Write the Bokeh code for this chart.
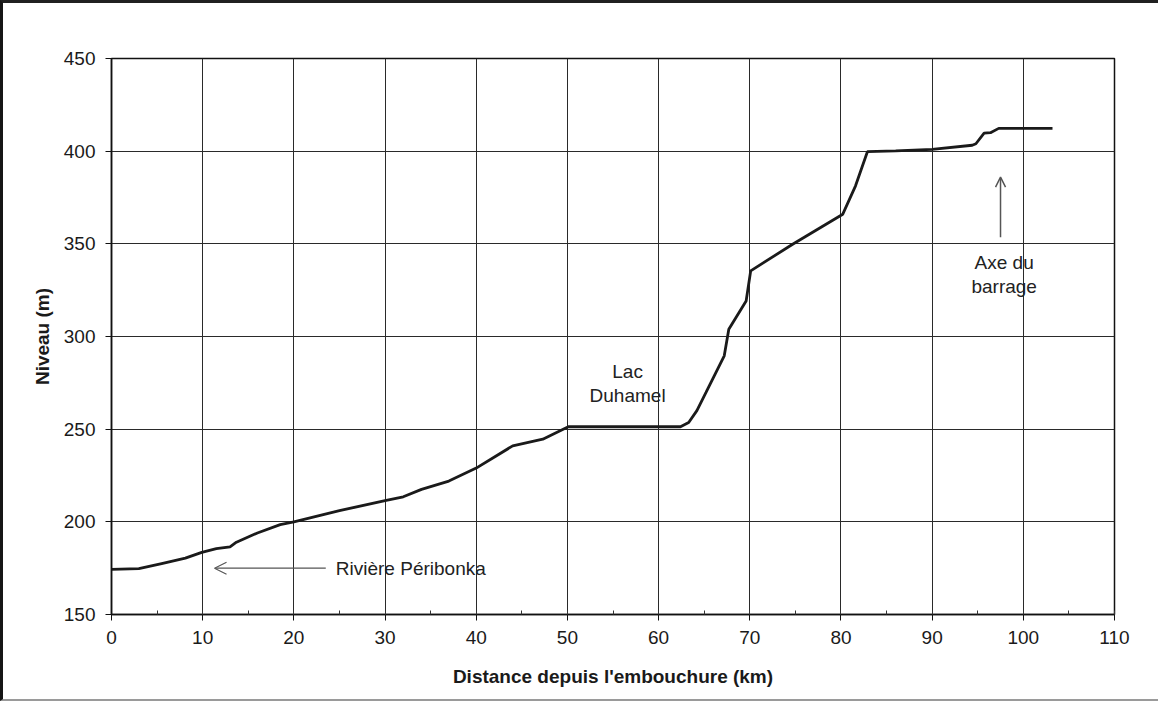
from bokeh.plotting import figure
from bokeh.models import Range1d, SingleIntervalTicker, Arrow, OpenHead, Label
from bokeh.embed import file_html
from bokeh.resources import INLINE

# Profile data: distance from mouth (km) and level (m)
distance_km = [0, 3.0, 5.5, 8.1, 9.9, 11.5, 13.0, 13.7, 16.0, 18.5, 20.0, 25.0, 30.0,
               32.0, 34.0, 37.0, 40.0, 42.0, 44.0, 47.3, 50.1, 55.0, 60.0, 62.4,
               63.3, 64.2, 65.2, 67.2, 67.7, 69.6, 70.1, 74.7, 80.2, 81.6, 82.9,
               86.0, 90.0, 94.4, 94.8, 95.7, 96.4, 97.3, 100.0, 103.2]
level_m = [174.3, 174.7, 177.5, 180.4, 183.5, 185.5, 186.5, 189.0, 194.0, 198.5, 200.0,
           206.0, 211.5, 213.5, 217.5, 222.0, 229.0, 235.0, 241.0, 244.6, 251.3, 251.3,
           251.3, 251.3, 253.6, 260.0, 269.8, 289.6, 303.9, 319.2, 335.4, 349.8, 366.0,
           381.3, 399.7, 400.2, 401.0, 403.2, 404.0, 409.7, 410.0, 412.3, 412.3, 412.3]

x_ticks_interval = 10
y_ticks_interval = 50

# Annotations
river_label = "Rivière Péribonka"
river_label_pos = (24.6, 175.0)
river_arrow = (23.5, 175.0, 11.3, 175.0)   # x_start, y_start, x_end, y_end
lake_lines = ["Lac", "Duhamel"]
lake_pos = [(56.6, 281.1), (56.6, 268.3)]
dam_lines = ["Axe du", "barrage"]
dam_pos = [(97.9, 340.0), (97.9, 327.0)]
dam_arrow = (97.5, 353.5, 97.5, 386.0)

FONT = "Liberation Sans"
FS = "19px"

p = figure(width=1158, height=701, output_backend="svg", toolbar_location=None,
           x_range=Range1d(0, 110), y_range=Range1d(150, 450),
           min_border_left=108, min_border_right=47, min_border_top=55, min_border_bottom=90)

p.styles = {"border-left": "3px solid #151515", "border-top": "3px solid #202020",
            "border-bottom": "2px solid #9a9a9a", "box-sizing": "border-box"}

p.outline_line_color = "#111111"
p.outline_line_width = 1.5

p.xaxis.ticker = SingleIntervalTicker(interval=x_ticks_interval, num_minor_ticks=2)
p.yaxis.ticker = SingleIntervalTicker(interval=y_ticks_interval, num_minor_ticks=0)

for ax in (p.xaxis[0], p.yaxis[0]):
    ax.axis_line_color = "#111111"
    ax.axis_line_width = 1.5
    ax.major_tick_line_color = "#111111"
    ax.major_tick_in = 0
    ax.major_tick_out = 6
    ax.major_label_text_font = FONT
    ax.major_label_text_font_size = FS
    ax.major_label_text_color = "#1a1a1a"
    ax.axis_label_text_font = FONT
    ax.axis_label_text_font_size = FS
    ax.axis_label_text_font_style = "bold"
    ax.axis_label_text_color = "#1a1a1a"

p.xaxis.minor_tick_in = 4
p.xaxis.minor_tick_out = 0
p.xaxis.minor_tick_line_color = "#333333"
p.xaxis.major_label_standoff = 10
p.xaxis.axis_label = "Distance depuis l'embouchure (km)"
p.xaxis.axis_label_standoff = 19

p.yaxis.minor_tick_line_color = None
p.yaxis.major_label_standoff = 10
p.yaxis.axis_label = "Niveau (m)"
p.yaxis.axis_label_standoff = 8

p.xgrid.grid_line_color = "#2a2a2a"
p.ygrid.grid_line_color = "#2a2a2a"
p.xgrid.grid_line_width = 1
p.ygrid.grid_line_width = 1

p.line(distance_km, level_m, line_color="#1a1a1a", line_width=2.8)

arrow_color = "#555555"
xs, ys, xe, ye = river_arrow
p.add_layout(Arrow(x_start=xs, y_start=ys, x_end=xe, y_end=ye, line_color=arrow_color,
                   line_width=1.2,
                   end=OpenHead(size=12, line_color=arrow_color, line_width=1.2)))
xs, ys, xe, ye = dam_arrow
p.add_layout(Arrow(x_start=xs, y_start=ys, x_end=xe, y_end=ye, line_color=arrow_color,
                   line_width=1.5,
                   end=OpenHead(size=10, line_color=arrow_color, line_width=1.5)))

p.add_layout(Label(x=river_label_pos[0], y=river_label_pos[1], text=river_label,
                   text_font=FONT, text_font_size=FS, text_color="#222222",
                   text_baseline="middle", text_align="left"))
for t, (lx, ly) in zip(lake_lines, lake_pos):
    p.add_layout(Label(x=lx, y=ly, text=t, text_font=FONT, text_font_size=FS,
                       text_color="#222222", text_baseline="middle", text_align="center"))
for t, (lx, ly) in zip(dam_lines, dam_pos):
    p.add_layout(Label(x=lx, y=ly, text=t, text_font=FONT, text_font_size=FS,
                       text_color="#222222", text_baseline="middle", text_align="center"))

open("out.html", "w").write(file_html(p, INLINE))
